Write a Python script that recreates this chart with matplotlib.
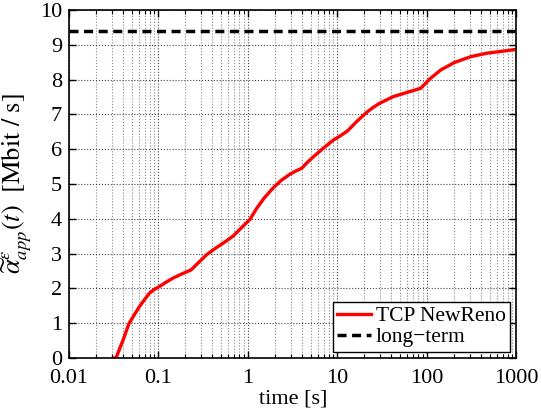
import numpy as np
import matplotlib
matplotlib.use('Agg')
import matplotlib.pyplot as plt

# values
time_s = [0.0313, 0.0335, 0.04, 0.047, 0.054, 0.061, 0.07, 0.079, 0.09, 0.102,
          0.12, 0.144, 0.18, 0.231,
          0.29, 0.346, 0.42, 0.50, 0.60, 0.686, 0.85, 1.05,
          1.25, 1.52, 1.9, 2.34, 2.94, 3.4, 3.98,
          4.6, 5.37, 6.95, 8.98, 11.0, 13.0,
          16.3, 21.0, 25.0, 29.6, 42, 59.6, 85,
          110, 143, 202, 309, 470, 720, 1000]
rate_newreno = [0.0, 0.0, 0.5, 1.0, 1.25, 1.47, 1.68, 1.86, 1.97, 2.05,
                2.17, 2.29, 2.41, 2.53,
                2.78, 2.97, 3.13, 3.26, 3.4, 3.51, 3.75, 3.98,
                4.3, 4.6, 4.88, 5.1, 5.28, 5.37, 5.45,
                5.62, 5.78, 6.03, 6.26, 6.4, 6.53,
                6.79, 7.05, 7.2, 7.32, 7.51, 7.63, 7.75,
                8.04, 8.28, 8.49, 8.66, 8.76, 8.82, 8.87]
long_term = 9.4

plt.rcParams['font.family'] = ['Liberation Serif', 'DejaVu Serif']
plt.rcParams['mathtext.fontset'] = 'stix'

fig = plt.figure(figsize=(5.41, 4.13), dpi=100)
ax = fig.add_axes([0.1275, 0.1332, 0.8272, 0.8426])

ax.plot(time_s, rate_newreno, color='#ff0000', lw=2.4, label='TCP NewReno')
ax.axhline(long_term, color='black', lw=2.5, ls=(0, (2.6, 1.6)), label='long\u2212term')

ax.set_xscale('log')
ax.set_xlim(0.01, 1000)
ax.set_ylim(0, 10)
ax.set_yticks(np.arange(0, 11, 1))
ax.set_xticks([0.01, 0.1, 1, 10, 100, 1000])
ax.set_xticklabels(['0.01', '0.1', '1', '10', '100', '1000'])

ax.grid(True, which='major', ls=':', color='#444444', lw=0.8)
ax.grid(True, which='minor', axis='x', ls=':', color='#888888', lw=0.8)
ax.tick_params(which='both', direction='in', top=True, right=True, labelsize=16)
ax.tick_params(which='major', length=5, width=1)
ax.tick_params(which='minor', length=3, width=0.8)
ax.tick_params(axis='x', pad=8)
ax.tick_params(axis='y', pad=5)
for s in ax.spines.values():
    s.set_linewidth(1.2)

ax.set_xlabel('time [s]', fontsize=16, labelpad=1)
ax.set_ylabel(r'$\widetilde{\alpha}^{\varepsilon}_{app}(t)\ \ [\mathrm{Mbit}\ /\ \mathrm{s}]$',
              fontsize=19, labelpad=4)

leg = ax.legend(loc='lower right', fontsize=15.5, handlelength=1.6, handletextpad=0.2,
                borderpad=0.2, labelspacing=0.05, fancybox=False, framealpha=1,
                edgecolor='black', borderaxespad=0.3)
leg.get_frame().set_linewidth(1.0)

fig.savefig('out.png', dpi=100)
